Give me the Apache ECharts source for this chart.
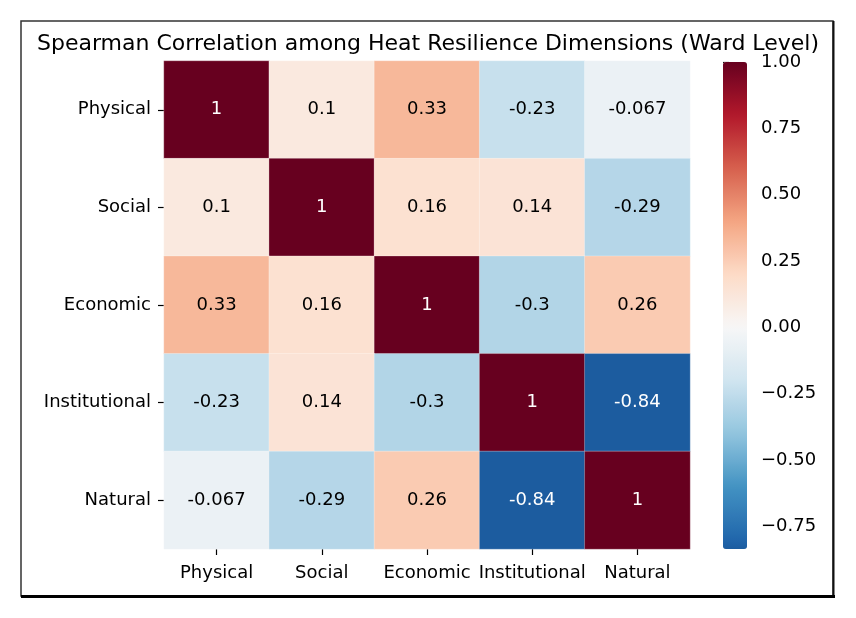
<!DOCTYPE html>
<html>
<head>
<meta charset="utf-8">
<title>Spearman Correlation</title>
<script src="https://cdn.jsdelivr.net/npm/echarts@6/dist/echarts.min.js"></script>
<style>
  html, body { margin: 0; padding: 0; background: #fff; }
  #chart { width: 856px; height: 618px; }
</style>
</head>
<body>
<div id="chart"></div>
<script>
// dimension names, same order on both axes
var dimensions = ['Physical', 'Social', 'Economic', 'Institutional', 'Natural'];

// correlation matrix, one row per dimension
var rowPhysical      = [1, 0.1, 0.33, -0.23, -0.067];
var rowSocial        = [0.1, 1, 0.16, 0.14, -0.29];
var rowEconomic      = [0.33, 0.16, 1, -0.3, 0.26];
var rowInstitutional = [-0.23, 0.14, -0.3, 1, -0.836];
var rowNatural       = [-0.067, -0.29, 0.26, -0.836, 1];

var colorbarTicks = [-0.75, -0.5, -0.25, 0, 0.25, 0.5, 0.75, 1];

// RdBu_r anchor colours
var rdbuR = ['#053061', '#2166ac', '#4393c3', '#92c5de', '#d1e5f0', '#f7f7f7',
             '#fddbc7', '#f4a582', '#d6604d', '#b2182b', '#67001f'];

var font = 'DejaVu Sans';
var rows = [rowPhysical, rowSocial, rowEconomic, rowInstitutional, rowNatural];

var vmin = Infinity, vmax = -Infinity;
rows.forEach(function (r) {
  r.forEach(function (v) { vmin = Math.min(vmin, v); vmax = Math.max(vmax, v); });
});

function fmt2g(v) {
  return String(parseFloat(v.toPrecision(2)));
}

// sample the cmap like seaborn does with center=0
function cmapAt(t) {
  var pos = Math.max(0, Math.min(1, t)) * (rdbuR.length - 1);
  var k = Math.min(Math.floor(pos), rdbuR.length - 2);
  var f = pos - k;
  var a = echarts.color.parse(rdbuR[k]), b = echarts.color.parse(rdbuR[k + 1]);
  return 'rgb(' + [0, 1, 2].map(function (c) {
    return Math.round(a[c] + (b[c] - a[c]) * f);
  }).join(',') + ')';
}
var vrange = Math.max(vmax, -vmin);
var cLo = (vmin + vrange) / (2 * vrange), cHi = (vmax + vrange) / (2 * vrange);
var mapColors = [];
for (var s = 0; s <= 60; s++) {
  mapColors.push(cmapAt(cLo + (cHi - cLo) * s / 60));
}

var cells = [];
for (var i = 0; i < rows.length; i++) {
  for (var j = 0; j < rows[i].length; j++) {
    var v = rows[i][j];
    cells.push({
      value: [j, i, v],
      label: { color: Math.abs(v) > 0.6 ? '#fff' : '#000' }
    });
  }
}

var chart = echarts.init(document.getElementById('chart'));

chart.setOption({
  backgroundColor: '#fff',
  animation: false,
  grid: [
    { left: 164, top: 61, width: 526, height: 488 },
    { left: 723, top: 62, width: 24, height: 487 }
  ],
  xAxis: [{
    type: 'category',
    gridIndex: 0,
    data: dimensions,
    axisLine: { show: false },
    axisTick: { show: true, alignWithLabel: true, length: 6, lineStyle: { color: '#000', width: 1.2 } },
    axisLabel: { color: '#000', fontSize: 18, fontFamily: font, margin: 15, interval: 0 },
    splitLine: { show: false }
  }, {
    type: 'value',
    gridIndex: 1,
    show: false
  }],
  yAxis: [{
    type: 'category',
    gridIndex: 0,
    data: dimensions,
    inverse: true,
    axisLine: { show: false },
    axisTick: { show: true, alignWithLabel: true, length: 6, lineStyle: { color: '#000', width: 1.2 } },
    axisLabel: { color: '#000', fontSize: 18, fontFamily: font, margin: 13, interval: 0 },
    splitLine: { show: false }
  }, {
    type: 'value',
    gridIndex: 1,
    position: 'right',
    min: vmin,
    max: vmax,
    axisLine: { show: false },
    splitLine: { show: false },
    axisTick: { show: true, length: 6, customValues: colorbarTicks, lineStyle: { color: '#000', width: 1.2 } },
    axisLabel: {
      color: '#000', fontSize: 18, fontFamily: font, margin: 14,
      customValues: colorbarTicks,
      formatter: function (v) {
        return (v < 0 ? '\u2212' : '') + Math.abs(v).toFixed(2);
      }
    }
  }],
  visualMap: {
    type: 'continuous',
    min: vmin,
    max: vmax,
    calculable: false,
    orient: 'vertical',
    left: 723,
    top: 62,
    itemWidth: 24,
    itemHeight: 487,
    padding: 0,
    seriesIndex: 0,
    inRange: { color: mapColors },
    textStyle: { color: 'transparent' }
  },
  series: [{
    type: 'heatmap',
    xAxisIndex: 0,
    yAxisIndex: 0,
    data: cells,
    itemStyle: { borderColor: 'rgba(255,255,255,0.45)', borderWidth: 0.6 },
    label: {
      show: true,
      fontSize: 18,
      fontFamily: font,
      formatter: function (p) { return fmt2g(p.value[2]); }
    },
    emphasis: { disabled: true }
  }],
  graphic: [{
    type: 'text',
    x: 428,
    y: 44,
    style: {
      text: 'Spearman Correlation among Heat Resilience Dimensions (Ward Level)',
      fontSize: 22,
      fontFamily: font,
      fill: '#000',
      textAlign: 'center',
      textVerticalAlign: 'middle'
    }
  }, {
    type: 'rect',
    shape: { x: 21, y: 21, width: 812, height: 575 },
    style: { fill: 'none', stroke: '#333', lineWidth: 1.5 }
  }, {
    type: 'line',
    shape: { x1: 833.5, y1: 21, x2: 833.5, y2: 597 },
    style: { stroke: '#111', lineWidth: 2 }
  }, {
    type: 'line',
    shape: { x1: 21, y1: 596.5, x2: 835, y2: 596.5 },
    style: { stroke: '#000', lineWidth: 3 }
  }]
});
</script>
</body>
</html>
